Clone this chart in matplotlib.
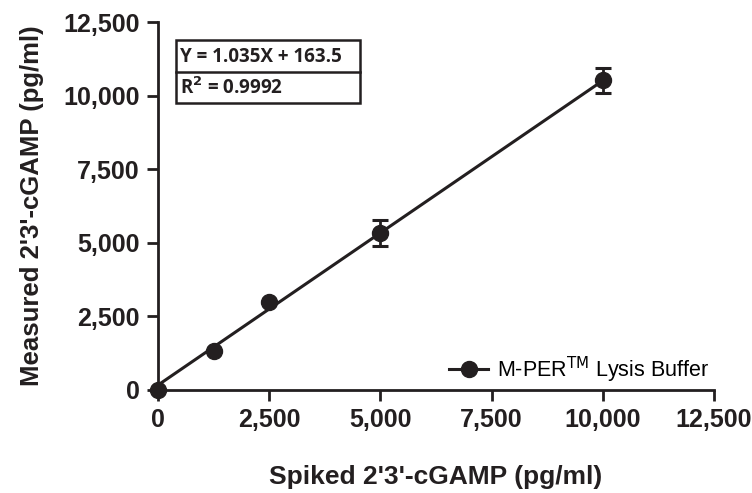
import matplotlib
matplotlib.use("Agg")
import matplotlib.pyplot as plt
from matplotlib.patches import Rectangle
from matplotlib.lines import Line2D
import numpy as np

spiked = [0, 1250, 2500, 5000, 10000]
measured = [0, 1325, 2990, 5340, 10520]
err = [0, 0, 0, 440, 420]
slope, intercept = 1.035, 163.5
ticks = [0, 2500, 5000, 7500, 10000, 12500]
tick_labels = ["0", "2,500", "5,000", "7,500", "10,000", "12,500"]

plt.rcParams['font.family'] = ['Liberation Sans', 'DejaVu Sans']
fig = plt.figure(figsize=(7.52, 4.93), dpi=100)
ax = fig.add_axes([0.210, 0.209, 0.7395, 0.746])

fx = np.array([0, 10000])
ax.plot(fx, slope * fx + intercept, color='#231f20', lw=2.2, zorder=2)
ax.errorbar(spiked, measured, yerr=err, fmt='o', color='#231f20', ms=11.5,
            capsize=6, elinewidth=2, capthick=2.2, zorder=3, clip_on=False)

ax.set_xlim(0, 12500)
ax.set_ylim(0, 12500)
ax.set_xticks(ticks)
ax.set_xticklabels(tick_labels)
ax.set_yticks(ticks)
ax.set_yticklabels(tick_labels)
for s in ['top', 'right']:
    ax.spines[s].set_visible(False)
for s in ['left', 'bottom']:
    ax.spines[s].set_linewidth(2)
    ax.spines[s].set_color('#231f20')
ax.tick_params(direction='out', length=8, width=2, color='#231f20',
               labelsize=18, pad=5, labelcolor='#231f20')
for lab in ax.get_xticklabels() + ax.get_yticklabels():
    lab.set_fontweight('bold')
ax.set_xlabel("Spiked 2'3'-cGAMP (pg/ml)", fontsize=19, fontweight='bold',
              labelpad=24, color='#231f20')
ax.set_ylabel("Measured 2'3'-cGAMP (pg/ml)", fontsize=18.5, fontweight='bold',
              labelpad=14, color='#231f20')

# equation box (figure pixel coords -> fraction)
W, H = 752, 493
def fxp(x): return x / W
def fyp(y): return 1 - y / H
box = Rectangle((fxp(176), fyp(103)), fxp(360) - fxp(176), fyp(40) - fyp(103),
                transform=fig.transFigure, fill=False, lw=1.8, ec='#231f20')
fig.add_artist(box)
fig.add_artist(Line2D([fxp(176), fxp(360)], [fyp(72), fyp(72)],
                      transform=fig.transFigure, lw=1.8, color='#231f20'))
fig.text(fxp(180), fyp(57), "Y = 1.035X + 163.5", fontsize=13.5, fontweight='bold',
         family=['Open Sans', 'DejaVu Sans'], va='center', color='#231f20')
fig.text(fxp(180), fyp(88), "R$^\\mathbf{2}$ = 0.9992", fontsize=13.5, fontweight='bold',
         family=['Open Sans', 'DejaVu Sans'], va='center', color='#231f20')

# legend
h = Line2D([], [], color='#231f20', lw=2.2, marker='o', ms=11.5)
ax.legend([h], ["M-PER$^{\\mathrm{TM}}$ Lysis Buffer"], loc='lower right',
          bbox_to_anchor=(1.01, -0.015), frameon=False, fontsize=15.5,
          handlelength=1.8, handletextpad=0.4, borderaxespad=0.1)

fig.savefig("out.png", dpi=100)
